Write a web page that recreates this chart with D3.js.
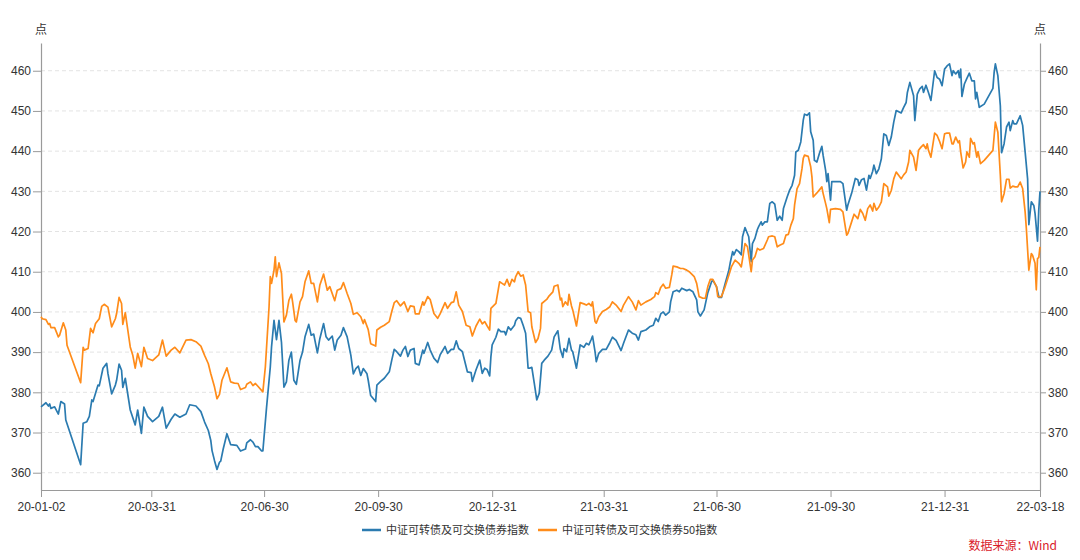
<!DOCTYPE html>
<html>
<head>
<meta charset="utf-8">
<script src="https://cdn.jsdelivr.net/npm/d3@7"></script>
<style>
  html, body { margin: 0; padding: 0; background: #fff; }
  svg { display: block; font-family: "Liberation Sans", Arial, "Noto Sans CJK SC", sans-serif; }
</style>
</head>
<body>
<svg id="chart" width="1080" height="560"></svg>
<script>
// ---- data ----
const seriesNames = ["中证可转债及可交换债券指数", "中证可转债及可交换债券50指数"];
const seriesColors = ["#2b7bb0", "#ff8c1a"];
const xTickDates = ["2020-01-02","2020-03-31","2020-06-30","2020-09-30","2020-12-31","2021-03-31","2021-06-30","2021-09-30","2021-12-31","2022-03-18"];
const yTicks = [360, 370, 380, 390, 400, 410, 420, 430, 440, 450, 460];
const yDomain = [355.7, 466.9];
const unitLabel = "点";
const sourceText = "数据来源：Wind";

const indexSeries = [
["2020-01-02",376.4],["2020-01-06",377.4],["2020-01-08",376.6],["2020-01-09",377.1],["2020-01-10",376.0],["2020-01-13",376.4],["2020-01-16",374.6],["2020-01-18",377.7],["2020-01-21",377.1],["2020-01-22",373.1],
["2020-02-03",362.0],["2020-02-05",372.3],["2020-02-08",372.7],["2020-02-10",374.0],["2020-02-12",378.1],["2020-02-13",377.7],["2020-02-17",381.8],["2020-02-18",381.6],["2020-02-21",386.0],["2020-02-24",387.2],["2020-02-25",384.7],["2020-02-28",379.6],
["2020-03-02",381.8],["2020-03-03",383.0],["2020-03-05",387.0],["2020-03-07",385.5],["2020-03-08",381.2],["2020-03-10",383.5],["2020-03-14",375.6],["2020-03-18",371.9],["2020-03-20",375.6],["2020-03-23",369.8],["2020-03-25",376.3],["2020-03-28",374.0],
["2020-04-01",372.7],["2020-04-06",374.0],["2020-04-09",376.3],["2020-04-12",371.1],["2020-04-16",373.3],["2020-04-19",374.6],["2020-04-23",373.8],["2020-04-28",374.6],["2020-05-01",376.9],["2020-05-06",376.6],["2020-05-10",375.2],
["2020-05-13",372.6],["2020-05-16",370.5],["2020-05-18",368.0],["2020-05-19",365.5],["2020-05-21",363.0],["2020-05-23",360.8],["2020-05-25",362.6],["2020-05-26",362.9],["2020-05-28",365.9],["2020-05-31",369.7],
["2020-06-03",367.0],["2020-06-08",366.8],["2020-06-11",365.4],["2020-06-15",365.9],["2020-06-16",367.4],["2020-06-19",368.2],["2020-06-21",367.6],["2020-06-23",366.5],["2020-06-25",366.5],["2020-06-28",365.4],["2020-06-29",365.4],
["2020-07-02",376.3],["2020-07-05",386.3],["2020-07-06",391.3],["2020-07-08",397.9],["2020-07-10",393.1],["2020-07-12",397.9],["2020-07-14",392.5],["2020-07-16",381.3],["2020-07-18",382.6],["2020-07-20",388.0],["2020-07-22",390.0],["2020-07-24",383.0],["2020-07-26",382.0],["2020-07-29",388.0],["2020-07-31",390.0],
["2020-08-02",393.8],["2020-08-05",396.9],["2020-08-07",394.2],["2020-08-09",394.5],["2020-08-12",389.8],["2020-08-14",393.4],["2020-08-17",397.1],["2020-08-19",393.8],["2020-08-21",393.0],["2020-08-24",394.0],["2020-08-26",390.5],["2020-08-28",393.0],["2020-08-31",394.2],
["2020-09-02",396.1],["2020-09-05",393.8],["2020-09-08",389.2],["2020-09-10",384.6],["2020-09-12",385.9],["2020-09-14",386.5],["2020-09-16",384.2],["2020-09-18",385.9],["2020-09-21",384.6],["2020-09-22",383.0],["2020-09-24",379.2],["2020-09-28",377.7],["2020-09-29",381.8],
["2020-10-02",382.7],["2020-10-05",383.5],["2020-10-09",385.1],["2020-10-11",388.0],["2020-10-13",390.7],["2020-10-15",390.1],["2020-10-18",389.0],["2020-10-20",390.5],["2020-10-22",391.4],["2020-10-24",388.9],["2020-10-26",390.5],["2020-10-29",390.9],["2020-10-30",387.2],
["2020-11-02",386.8],["2020-11-05",390.5],["2020-11-06",389.7],["2020-11-09",392.4],["2020-11-11",390.5],["2020-11-14",388.5],["2020-11-17",387.4],["2020-11-19",389.3],["2020-11-23",391.4],["2020-11-25",389.7],["2020-11-28",390.7],["2020-11-30",390.7],
["2020-12-02",392.8],["2020-12-04",390.9],["2020-12-07",390.1],["2020-12-11",385.1],["2020-12-14",384.9],["2020-12-15",382.7],["2020-12-18",385.6],["2020-12-21",388.0],["2020-12-22",386.4],["2020-12-23",384.7],["2020-12-25",386.0],["2020-12-27",385.6],["2020-12-29",384.1],["2020-12-30",388.9],["2020-12-31",391.8],
["2021-01-03",393.7],["2021-01-05",395.7],["2021-01-07",395.1],["2021-01-10",395.1],["2021-01-11",394.3],["2021-01-13",396.3],["2021-01-15",395.5],["2021-01-18",396.7],["2021-01-19",397.8],["2021-01-21",398.6],["2021-01-23",398.4],["2021-01-25",396.7],["2021-01-27",394.7],["2021-01-29",386.0],["2021-01-30",386.0],
["2021-02-01",386.2],["2021-02-03",382.2],["2021-02-05",378.1],["2021-02-07",379.8],["2021-02-09",387.2],["2021-02-11",388.0],["2021-02-14",389.0],["2021-02-17",390.5],["2021-02-19",393.8],["2021-02-22",395.3],["2021-02-24",390.7],["2021-02-26",388.7],["2021-02-27",390.9],
["2021-03-01",390.1],["2021-03-03",393.4],["2021-03-05",390.5],["2021-03-06",390.1],["2021-03-09",386.0],["2021-03-12",391.8],["2021-03-15",391.2],["2021-03-17",392.2],["2021-03-19",391.8],["2021-03-21",393.2],["2021-03-22",394.0],["2021-03-24",390.1],["2021-03-25",387.6],["2021-03-27",389.7],["2021-03-30",390.7],
["2021-04-02",390.7],["2021-04-05",392.4],["2021-04-07",393.7],["2021-04-10",392.9],["2021-04-14",390.4],["2021-04-16",392.2],["2021-04-20",395.5],["2021-04-23",394.7],["2021-04-26",394.3],["2021-04-28",393.0],["2021-04-30",395.1],
["2021-05-04",395.5],["2021-05-07",396.3],["2021-05-10",396.7],["2021-05-12",398.4],["2021-05-14",397.6],["2021-05-16",399.5],["2021-05-18",400.0],["2021-05-20",399.2],["2021-05-23",400.0],["2021-05-24",402.5],["2021-05-26",405.0],["2021-05-29",405.4],["2021-05-31",405.0],
["2021-06-02",405.9],["2021-06-06",405.3],["2021-06-08",405.6],["2021-06-11",405.0],["2021-06-14",403.0],["2021-06-15",400.0],["2021-06-17",399.0],["2021-06-20",400.5],["2021-06-23",404.8],["2021-06-26",407.5],["2021-06-27",407.9],["2021-06-30",406.3],
["2021-07-02",403.6],["2021-07-04",403.6],["2021-07-07",407.1],["2021-07-10",410.4],["2021-07-11",412.1],["2021-07-13",415.0],["2021-07-14",414.2],["2021-07-16",415.5],["2021-07-18",415.0],["2021-07-20",414.2],["2021-07-21",418.7],["2021-07-23",421.0],["2021-07-26",418.7],["2021-07-28",412.5],["2021-07-29",417.0],["2021-07-31",418.3],
["2021-08-02",420.5],["2021-08-03",421.2],["2021-08-05",422.4],["2021-08-06",421.6],["2021-08-08",422.4],["2021-08-10",422.4],["2021-08-12",427.0],["2021-08-14",427.4],["2021-08-16",426.8],["2021-08-18",422.8],["2021-08-20",423.8],["2021-08-22",422.8],["2021-08-23",425.7],["2021-08-26",428.6],["2021-08-28",430.3],["2021-08-30",431.5],
["2021-09-01",434.0],["2021-09-02",439.8],["2021-09-04",440.2],["2021-09-06",442.3],["2021-09-08",447.7],["2021-09-09",449.2],["2021-09-11",448.9],["2021-09-13",449.5],["2021-09-14",444.8],["2021-09-16",442.7],["2021-09-17",437.7],["2021-09-19",437.3],["2021-09-21",439.4],["2021-09-23",441.2],["2021-09-24",439.0],["2021-09-26",435.3],["2021-09-27",432.4],["2021-09-28",434.4],["2021-09-30",427.8],
["2021-10-01",432.4],["2021-10-04",432.4],["2021-10-08",432.4],["2021-10-10",431.9],["2021-10-13",425.3],["2021-10-14",426.6],["2021-10-17",429.5],["2021-10-20",433.2],["2021-10-22",432.9],["2021-10-23",431.5],["2021-10-25",432.9],["2021-10-27",433.2],["2021-10-29",430.3],["2021-10-31",434.0],
["2021-11-01",433.2],["2021-11-03",435.0],["2021-11-04",436.5],["2021-11-06",434.4],["2021-11-08",435.6],["2021-11-10",438.1],["2021-11-12",444.3],["2021-11-14",443.9],["2021-11-16",441.4],["2021-11-18",443.5],["2021-11-20",447.2],["2021-11-22",450.1],["2021-11-26",449.5],["2021-11-28",450.9],["2021-11-30",452.1],
["2021-12-01",454.6],["2021-12-03",457.1],["2021-12-06",453.8],["2021-12-07",447.6],["2021-12-09",454.2],["2021-12-11",455.5],["2021-12-13",456.1],["2021-12-14",454.6],["2021-12-16",456.4],["2021-12-18",454.6],["2021-12-20",452.6],["2021-12-23",460.0],["2021-12-25",458.3],["2021-12-27",457.9],["2021-12-29",456.3],["2021-12-31",460.4],
["2022-01-02",461.2],["2022-01-04",461.7],["2022-01-06",458.8],["2022-01-07",460.0],["2022-01-09",459.2],["2022-01-11",460.0],["2022-01-12",458.3],["2022-01-13",460.4],["2022-01-14",453.6],["2022-01-16",456.7],["2022-01-18",458.1],["2022-01-20",459.4],["2022-01-22",457.5],["2022-01-24",457.5],["2022-01-25",453.0],["2022-01-26",454.6],["2022-01-28",450.9],
["2022-02-01",451.7],["2022-02-08",455.6],["2022-02-09",459.6],["2022-02-10",461.7],["2022-02-12",458.8],["2022-02-14",451.3],["2022-02-15",439.6],["2022-02-17",441.8],["2022-02-19",446.0],["2022-02-21",447.2],["2022-02-22",445.1],["2022-02-24",447.6],["2022-02-25",446.8],["2022-02-27",446.8],
["2022-03-02",448.8],["2022-03-04",446.4],["2022-03-06",439.8],["2022-03-08",433.1],["2022-03-09",421.7],["2022-03-11",427.4],["2022-03-13",426.5],["2022-03-14",424.5],["2022-03-16",417.6],["2022-03-17",425.3],["2022-03-18",430.0]
];

const index50Series = [
["2020-01-02",398.8],["2020-01-03",398.3],["2020-01-06",398.1],["2020-01-08",396.9],["2020-01-09",397.1],["2020-01-10",396.1],["2020-01-13",396.1],["2020-01-16",393.8],["2020-01-17",394.2],["2020-01-20",397.3],["2020-01-22",395.5],["2020-01-23",391.7],
["2020-02-03",382.4],["2020-02-05",391.2],["2020-02-06",390.5],["2020-02-09",390.9],["2020-02-11",395.9],["2020-02-13",394.8],["2020-02-15",397.1],["2020-02-18",398.3],["2020-02-20",401.4],["2020-02-22",401.9],["2020-02-25",401.2],["2020-02-28",396.3],
["2020-03-02",398.3],["2020-03-03",399.6],["2020-03-05",403.6],["2020-03-07",402.1],["2020-03-08",396.9],["2020-03-10",399.8],["2020-03-14",391.3],["2020-03-16",389.3],["2020-03-18",386.0],["2020-03-20",389.7],["2020-03-23",386.4],["2020-03-25",391.2],["2020-03-28",388.4],
["2020-04-01",387.9],["2020-04-06",389.3],["2020-04-09",393.0],["2020-04-12",389.0],["2020-04-16",390.5],["2020-04-19",391.2],["2020-04-23",389.8],["2020-04-28",393.0],["2020-05-02",393.1],["2020-05-06",392.6],["2020-05-10",391.5],
["2020-05-13",389.2],["2020-05-16",387.1],["2020-05-18",384.6],["2020-05-21",381.3],["2020-05-23",378.4],["2020-05-25",379.5],["2020-05-27",383.0],["2020-05-31",386.1],
["2020-06-03",382.6],["2020-06-06",382.3],["2020-06-09",382.2],["2020-06-11",380.7],["2020-06-15",381.2],["2020-06-16",382.0],["2020-06-19",382.6],["2020-06-21",381.7],["2020-06-23",382.2],["2020-06-25",381.5],["2020-06-29",380.1],
["2020-07-01",386.3],["2020-07-04",401.3],["2020-07-05",408.8],["2020-07-06",407.1],["2020-07-08",410.4],["2020-07-09",413.7],["2020-07-10",408.8],["2020-07-12",412.2],["2020-07-14",409.6],["2020-07-16",397.5],["2020-07-18",399.2],["2020-07-20",402.9],["2020-07-22",404.4],["2020-07-23",402.5],["2020-07-25",397.9],["2020-07-26",397.5],["2020-07-29",402.5],["2020-07-31",403.8],
["2020-08-02",407.5],["2020-08-05",410.2],["2020-08-07",407.1],["2020-08-09",407.1],["2020-08-12",402.5],["2020-08-14",406.7],["2020-08-17",409.4],["2020-08-20",405.4],["2020-08-22",406.3],["2020-08-26",402.8],["2020-08-28",405.4],["2020-08-31",405.8],
["2020-09-02",407.3],["2020-09-05",404.6],["2020-09-08",402.1],["2020-09-10",399.4],["2020-09-13",399.8],["2020-09-16",398.8],["2020-09-18",397.1],["2020-09-19",398.1],["2020-09-22",395.6],["2020-09-24",392.1],["2020-09-28",391.5],["2020-09-29",395.5],
["2020-10-02",396.2],["2020-10-05",396.7],["2020-10-09",397.6],["2020-10-11",400.1],["2020-10-13",402.3],["2020-10-15",402.8],["2020-10-18",401.5],["2020-10-21",402.5],["2020-10-24",400.1],["2020-10-26",401.5],["2020-10-29",401.3],["2020-10-30",399.5],
["2020-11-02",399.5],["2020-11-05",402.5],["2020-11-06",401.7],["2020-11-09",403.8],["2020-11-11",403.1],["2020-11-14",399.6],["2020-11-17",398.4],["2020-11-19",399.5],["2020-11-23",402.3],["2020-11-25",400.9],["2020-11-28",402.3],["2020-11-30",402.5],
["2020-12-02",405.0],["2020-12-04",401.7],["2020-12-07",400.1],["2020-12-10",396.7],["2020-12-13",396.3],["2020-12-15",394.0],["2020-12-18",396.5],["2020-12-21",398.2],["2020-12-23",397.0],["2020-12-25",397.6],["2020-12-27",396.5],["2020-12-29",395.5],["2020-12-30",400.9],
["2021-01-03",402.1],["2021-01-06",407.5],["2021-01-08",407.1],["2021-01-10",406.7],["2021-01-12",408.1],["2021-01-14",406.4],["2021-01-16",408.1],["2021-01-18",407.5],["2021-01-19",408.8],["2021-01-21",410.0],["2021-01-23",408.9],["2021-01-25",409.2],["2021-01-27",406.7],["2021-01-29",400.1],["2021-01-31",399.8],
["2021-02-01",396.3],["2021-02-04",392.4],["2021-02-06",393.4],["2021-02-08",395.9],["2021-02-09",402.1],["2021-02-13",403.1],["2021-02-15",404.0],["2021-02-18",405.0],["2021-02-19",406.4],["2021-02-22",406.7],["2021-02-24",403.0],["2021-02-25",403.4],["2021-02-26",401.3],["2021-02-28",402.5],
["2021-03-02",401.7],["2021-03-03",404.4],["2021-03-05",401.5],["2021-03-06",400.5],["2021-03-09",396.5],["2021-03-12",402.3],["2021-03-15",402.0],["2021-03-17",401.7],["2021-03-19",402.1],["2021-03-21",401.5],["2021-03-22",402.5],["2021-03-24",397.6],["2021-03-25",397.2],["2021-03-27",398.8],["2021-03-30",400.1],
["2021-04-02",400.6],["2021-04-05",401.3],["2021-04-07",402.5],["2021-04-10",401.7],["2021-04-14",400.1],["2021-04-16",401.7],["2021-04-20",403.8],["2021-04-23",402.5],["2021-04-26",400.5],["2021-04-28",402.8],["2021-04-30",401.7],
["2021-05-04",402.5],["2021-05-08",403.1],["2021-05-11",403.8],["2021-05-12",404.8],["2021-05-14",404.4],["2021-05-16",406.1],["2021-05-18",406.9],["2021-05-20",405.9],["2021-05-23",406.1],["2021-05-25",409.4],["2021-05-26",411.4],["2021-05-29",411.2],
["2021-06-01",410.8],["2021-06-03",410.8],["2021-06-06",410.4],["2021-06-08",410.0],["2021-06-10",409.4],["2021-06-12",408.8],["2021-06-14",407.1],["2021-06-16",403.8],["2021-06-19",403.4],["2021-06-21",403.4],["2021-06-23",406.3],["2021-06-25",408.1],["2021-06-27",408.1],["2021-06-30",406.3],
["2021-07-01",403.8],["2021-07-04",403.8],["2021-07-07",406.3],["2021-07-10",409.2],["2021-07-12",411.2],["2021-07-15",412.9],["2021-07-18",412.1],["2021-07-20",411.2],["2021-07-23",417.0],["2021-07-25",416.2],["2021-07-28",410.0],["2021-07-29",412.9],["2021-07-31",413.7],
["2021-08-02",415.8],["2021-08-04",415.4],["2021-08-07",415.8],["2021-08-10",417.9],["2021-08-11",418.7],["2021-08-14",418.9],["2021-08-16",418.7],["2021-08-18",416.2],["2021-08-20",416.6],["2021-08-23",417.0],["2021-08-25",419.1],["2021-08-27",419.3],["2021-08-29",421.6],["2021-08-31",423.2],
["2021-09-01",426.6],["2021-09-03",430.7],["2021-09-05",431.9],["2021-09-07",435.7],["2021-09-08",438.2],["2021-09-09",439.0],["2021-09-12",438.7],["2021-09-14",436.1],["2021-09-15",433.6],["2021-09-16",428.6],["2021-09-19",429.6],["2021-09-23",431.1],["2021-09-24",429.5],["2021-09-26",427.0],["2021-09-27",425.7],["2021-09-29",422.2],["2021-09-30",425.5],
["2021-10-04",425.7],["2021-10-08",425.5],["2021-10-10",424.9],["2021-10-13",419.1],["2021-10-14",419.5],["2021-10-17",422.4],["2021-10-19",424.3],["2021-10-22",423.2],["2021-10-24",425.5],["2021-10-26",424.5],["2021-10-28",422.8],["2021-10-30",425.7],
["2021-11-01",426.6],["2021-11-03",425.1],["2021-11-04",427.0],["2021-11-06",425.3],["2021-11-08",426.1],["2021-11-10",427.4],["2021-11-12",431.9],["2021-11-15",431.1],["2021-11-16",428.8],["2021-11-18",430.2],["2021-11-20",433.1],["2021-11-22",434.8],["2021-11-26",433.1],["2021-11-28",434.1],["2021-11-30",434.8],
["2021-12-02",437.3],["2021-12-03",440.2],["2021-12-06",438.5],["2021-12-08",435.2],["2021-12-10",440.2],["2021-12-12",441.0],["2021-12-14",441.6],["2021-12-16",440.6],["2021-12-17",441.8],["2021-12-18",440.2],["2021-12-20",438.5],["2021-12-23",444.5],["2021-12-25",443.9],["2021-12-27",442.4],["2021-12-29",440.6],["2021-12-31",444.3],
["2022-01-02",444.5],["2022-01-04",444.5],["2022-01-06",441.8],["2022-01-07",441.8],["2022-01-09",443.5],["2022-01-11",442.1],["2022-01-12",442.6],["2022-01-13",439.8],["2022-01-15",435.8],["2022-01-17",437.3],["2022-01-18",439.8],["2022-01-20",438.5],["2022-01-21",443.2],["2022-01-23",441.8],["2022-01-24",442.1],["2022-01-26",438.5],["2022-01-27",439.9],["2022-01-29",436.9],
["2022-02-01",437.7],["2022-02-08",440.2],["2022-02-09",443.7],["2022-02-10",447.2],["2022-02-12",444.7],["2022-02-14",434.0],["2022-02-15",427.4],["2022-02-17",429.4],["2022-02-19",433.0],["2022-02-21",433.0],["2022-02-22",430.8],["2022-02-24",431.3],["2022-02-26",431.1],["2022-02-28",431.1],
["2022-03-02",432.3],["2022-03-04",430.7],["2022-03-06",424.9],["2022-03-07",420.7],["2022-03-09",410.4],["2022-03-11",414.5],["2022-03-12",414.1],["2022-03-14",412.1],["2022-03-15",405.5],["2022-03-16",413.3],["2022-03-17",413.5],["2022-03-18",416.2]
];

// ---- drawing ----
const W = 1080, H = 560;
const margin = { left: 41, right: 40, top: 43, bottom: 70 };
const parse = d3.timeParse("%Y-%m-%d");
const svg = d3.select("#chart");

const x = d3.scaleTime()
  .domain([parse(xTickDates[0]), parse(xTickDates[xTickDates.length - 1])])
  .range([margin.left, W - margin.right]);
const y = d3.scaleLinear().domain(yDomain).range([H - margin.bottom, margin.top]);

const axisColor = "#9a9a9a";
const textColor = "#333";

// gridlines
svg.append("g").selectAll("line").data(yTicks).join("line")
  .attr("x1", margin.left).attr("x2", W - margin.right)
  .attr("y1", d => y(d)).attr("y2", d => y(d))
  .attr("stroke", "#e3e3e3").attr("stroke-width", 1).attr("stroke-dasharray", "4,3");

function styleAxis(g) {
  g.select(".domain").attr("stroke", axisColor).attr("stroke-width", 1.2);
  g.selectAll(".tick line").attr("stroke", axisColor).attr("stroke-width", 1);
  g.selectAll(".tick text").attr("fill", textColor).style("font-size", "12px")
    .style("font-family", "'Liberation Sans', Arial, sans-serif");
}

const yLeft = svg.append("g").attr("transform", `translate(${margin.left},0)`)
  .call(d3.axisLeft(y).tickValues(yTicks).tickSize(8).tickSizeOuter(0).tickPadding(2));
styleAxis(yLeft);
const yRight = svg.append("g").attr("transform", `translate(${W - margin.right},0)`)
  .call(d3.axisRight(y).tickValues(yTicks).tickSize(6).tickSizeOuter(0).tickPadding(2));
styleAxis(yRight);

const fmt = d3.timeFormat("%y-%m-%d");
const xAxis = svg.append("g").attr("transform", `translate(0,${H - margin.bottom})`)
  .call(d3.axisBottom(x).tickValues(xTickDates.map(parse)).tickFormat(fmt).tickSize(7).tickSizeOuter(0).tickPadding(5));
styleAxis(xAxis);

// unit labels
[margin.left, W - margin.right].forEach(px => {
  svg.append("text").attr("x", px).attr("y", 34).attr("text-anchor", "middle")
    .attr("fill", textColor).style("font-size", "12px")
    .style("font-family", "'Noto Sans CJK SC', sans-serif").text(unitLabel);
});

// lines
const line = d3.line().x(d => x(parse(d[0]))).y(d => y(d[1])).curve(d3.curveLinear);
[indexSeries, index50Series].forEach((s, i) => {
  svg.append("path").datum(s).attr("fill", "none")
    .attr("stroke", seriesColors[i]).attr("stroke-width", 1.7)
    .attr("stroke-linejoin", "round").attr("d", line);
});

// legend
const legend = svg.append("g").style("font-family", "'Noto Sans CJK SC', sans-serif").style("font-size", "11px");
const legendItems = [{ x: 362 }, { x: 538 }];
legendItems.forEach((it, i) => {
  legend.append("line").attr("x1", it.x).attr("x2", it.x + 19).attr("y1", 530).attr("y2", 530)
    .attr("stroke", seriesColors[i]).attr("stroke-width", 2.5);
  legend.append("text").attr("x", it.x + 24).attr("y", 534).attr("fill", textColor).text(seriesNames[i]);
});

// source
svg.append("text").attr("x", 1057).attr("y", 550).attr("text-anchor", "end")
  .attr("fill", "#d9202a").style("font-size", "12px")
  .style("font-family", "'Noto Sans CJK SC', sans-serif").text(sourceText);
</script>
</body>
</html>
